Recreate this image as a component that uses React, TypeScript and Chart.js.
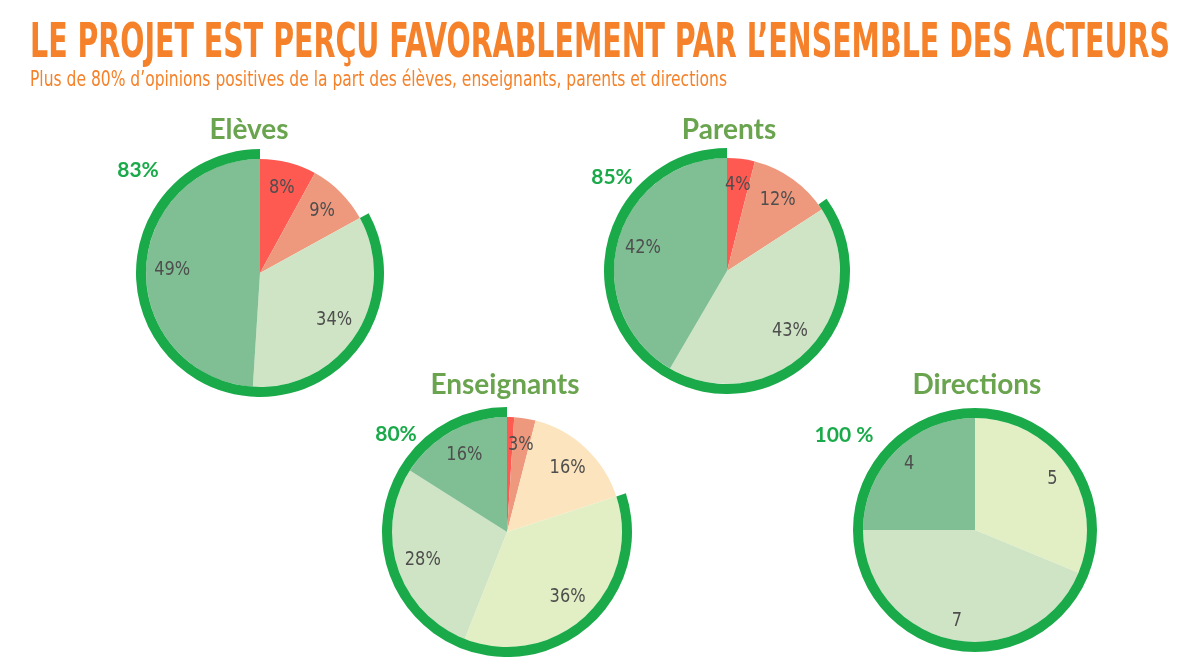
import React, { useEffect, useRef } from 'react';
import { Chart, registerables } from 'chart.js';
Chart.register(...registerables);

const TITLE = 'LE PROJET EST PERÇU FAVORABLEMENT PAR L’ENSEMBLE DES ACTEURS';
const SUBTITLE = 'Plus de 80% d’opinions positives de la part des élèves, enseignants, parents et directions';

const groupNames = ['Elèves', 'Parents', 'Enseignants', 'Directions'];
const positiveShares = [83, 85, 80, 100];
const positiveLabels = ['83%', '85%', '80%', '100 %'];

const elevesValues = [8, 9, 34, 49];
const elevesLabels = ['8%', '9%', '34%', '49%'];
const parentsValues = [4, 12, 43, 42];
const parentsLabels = ['4%', '12%', '43%', '42%'];
const enseignantsValues = [1, 3, 16, 36, 28, 16];
const enseignantsLabels = ['', '3%', '16%', '36%', '28%', '16%'];
const directionsValues = [5, 7, 4];
const directionsLabels = ['5', '7', '4'];

const ORANGE = '#F5822A';
const TITLE_GREEN = '#6AA44F';
const RING = '#1BAA4A';
const RED = '#FF5A52';
const SALMON = '#EE997D';
const CREAM = '#FCE5BE';
const PALE = '#E2EFC5';
const LIGHT = '#CFE4C4';
const MID = '#80BE94';

const LABEL_FONT = '"Liberation Sans Narrow", "DejaVu Sans Condensed", sans-serif';

type Layout = {
  cx: number; cy: number; ring: number; pie: number;
  title: { x: number; y: number }; pct: { x: number; y: number }; labelFactor: number;
};

const layouts: Layout[] = [
  { cx: 260, cy: 273, ring: 124, pie: 114, title: { x: 249, y: 139 }, pct: { x: 138, y: 177 }, labelFactor: 0.77 },
  { cx: 727, cy: 271, ring: 123, pie: 113, title: { x: 729, y: 139 }, pct: { x: 612, y: 184 }, labelFactor: 0.77 },
  { cx: 507, cy: 532, ring: 125, pie: 115, title: { x: 505, y: 394 }, pct: { x: 396, y: 441 }, labelFactor: 0.77 },
  { cx: 975, cy: 530, ring: 122, pie: 112, title: { x: 977, y: 394 }, pct: { x: 844, y: 442 }, labelFactor: 0.83 },
];

const series = [
  { values: elevesValues, labels: elevesLabels, colors: [RED, SALMON, LIGHT, MID] },
  { values: parentsValues, labels: parentsLabels, colors: [RED, SALMON, LIGHT, MID] },
  { values: enseignantsValues, labels: enseignantsLabels, colors: [RED, SALMON, CREAM, PALE, LIGHT, MID] },
  { values: directionsValues, labels: directionsLabels, colors: [PALE, LIGHT, MID] },
];

function RingPie(props: { values: number[]; labels: string[]; colors: string[]; positive: number; layout: Layout }) {
  const { values, labels, colors, positive, layout } = props;
  const ref = useRef<HTMLCanvasElement>(null);
  const size = layout.ring * 2;
  useEffect(() => {
    if (!ref.current) return;
    const labelPlugin = {
      id: 'sliceLabels',
      afterDatasetsDraw(chart: any) {
        const meta = chart.getDatasetMeta(1);
        const ctx = chart.ctx;
        meta.data.forEach((arc: any, i: number) => {
          const t = labels[i];
          if (!t) return;
          const p = arc.getProps(['x', 'y', 'startAngle', 'endAngle', 'outerRadius'], true);
          const mid = (p.startAngle + p.endAngle) / 2;
          const r = p.outerRadius * layout.labelFactor;
          ctx.save();
          ctx.translate(p.x + Math.cos(mid) * r, p.y + Math.sin(mid) * r);
          ctx.scale(0.9, 1);
          ctx.font = `20px ${LABEL_FONT}`;
          ctx.fillStyle = '#4E4E4E';
          ctx.textAlign = 'center';
          ctx.textBaseline = 'middle';
          ctx.fillText(t, 0, 0);
          ctx.restore();
        });
      },
    };
    const chart = new Chart(ref.current, {
      type: 'doughnut',
      data: {
        labels: values.map((_, i) => labels[i] || '-'),
        datasets: [
          {
            data: [100 - positive, positive],
            backgroundColor: ['rgba(0,0,0,0)', RING],
            borderWidth: 0,
            hoverOffset: 0,
            weight: layout.ring - layout.pie,
          } as any,
          {
            data: values,
            backgroundColor: colors,
            borderWidth: 0,
            hoverOffset: 0,
            weight: layout.pie,
          } as any,
        ],
      },
      options: {
        responsive: false,
        animation: false,
        cutout: 0,
        events: [],
        layout: { padding: 0 },
        plugins: { legend: { display: false }, tooltip: { enabled: false } },
      } as any,
      plugins: [labelPlugin],
    });
    return () => chart.destroy();
  }, []);
  return (
    <canvas
      ref={ref}
      width={size}
      height={size}
      style={{ position: 'absolute', left: layout.cx - layout.ring, top: layout.cy - layout.ring, width: size, height: size }}
    />
  );
}

export default function App() {
  return (
    <div style={{ position: 'absolute', left: 0, top: 0, width: 1200, height: 667, background: '#fff', overflow: 'hidden' }}>
      {series.map((s, i) => (
        <RingPie key={i} values={s.values} labels={s.labels} colors={s.colors} positive={positiveShares[i]} layout={layouts[i]} />
      ))}
      <svg width={1200} height={667} style={{ position: 'absolute', left: 0, top: 0, pointerEvents: 'none' }}>
        <text x={30} y={57} textLength={1140} lengthAdjust="spacingAndGlyphs" fontFamily={LABEL_FONT} fontWeight={700} fontSize={48} fill={ORANGE}>
          {TITLE}
        </text>
        <text x={30} y={86} textLength={697} lengthAdjust="spacingAndGlyphs" fontFamily={LABEL_FONT} fontSize={21} fill={ORANGE}>
          {SUBTITLE}
        </text>
        {groupNames.map((g, i) => (
          <text key={g} x={layouts[i].title.x} y={layouts[i].title.y} textAnchor="middle" fontFamily="Lato, sans-serif" fontWeight={700} fontSize={28} fill={TITLE_GREEN}>
            {g}
          </text>
        ))}
        {positiveLabels.map((p, i) => (
          <text key={p} x={layouts[i].pct.x} y={layouts[i].pct.y} textAnchor="middle" fontFamily="Lato, sans-serif" fontWeight={700} fontSize={21} fill={RING}>
            {p}
          </text>
        ))}
      </svg>
    </div>
  );
}
